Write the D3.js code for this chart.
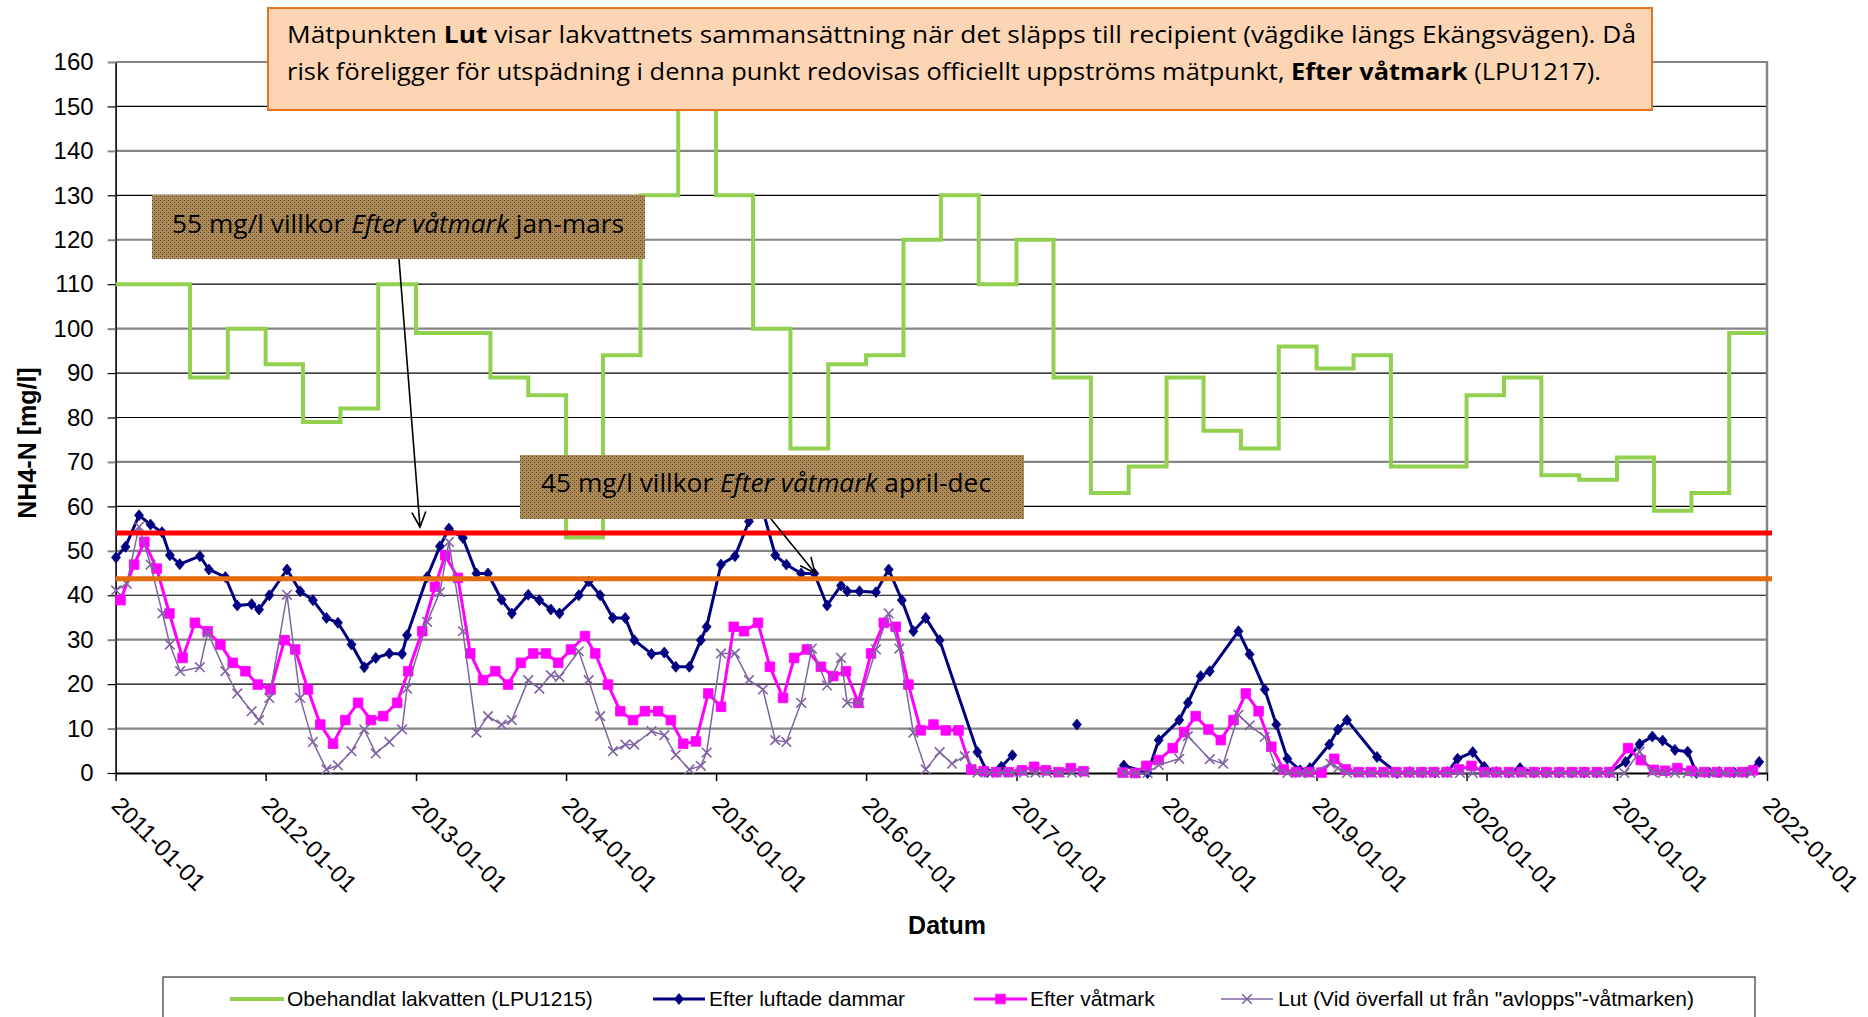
<!DOCTYPE html>
<html>
<head>
<meta charset="utf-8">
<script src="https://cdn.jsdelivr.net/npm/d3@7"></script>
<style>
  html, body { margin: 0; padding: 0; background: #fff; }
  svg { display: block; }
</style>
</head>
<body>
<div id="chart"></div>
<script>
// Obehandlat lakvatten (LPU1215), kvartalsvärden
const quarterStarts = [
  "2011-01-01", "2011-04-01", "2011-07-01", "2011-10-01",
  "2012-01-01", "2012-04-01", "2012-07-01", "2012-10-01",
  "2013-01-01", "2013-04-01", "2013-07-01", "2013-10-01",
  "2014-01-01", "2014-04-01", "2014-07-01", "2014-10-01",
  "2015-01-01", "2015-04-01", "2015-07-01", "2015-10-01",
  "2016-01-01", "2016-04-01", "2016-07-01", "2016-10-01",
  "2017-01-01", "2017-04-01", "2017-07-01", "2017-10-01",
  "2018-01-01", "2018-04-01", "2018-07-01", "2018-10-01",
  "2019-01-01", "2019-04-01", "2019-07-01", "2019-10-01",
  "2020-01-01", "2020-04-01", "2020-07-01", "2020-10-01",
  "2021-01-01", "2021-04-01", "2021-07-01", "2021-10-01"
];
const rawValues = [
  110, 110, 89, 100,
  92, 79, 82, 110,
  99, 99, 89, 85,
  53, 94, 130, 155,
  130, 100, 73, 92,
  94, 120, 130, 110,
  120, 89, 63, 69,
  89, 77, 73, 96,
  91, 94, 69, 69,
  85, 89, 67, 66,
  71, 59, 63, 99
];

// Efter luftade dammar (null = avbrott i linjen)
const pondSeries = [
  ["2011-01-02", 48.5], ["2011-01-25", 50.9], ["2011-02-27", 58.0], ["2011-03-27", 55.9],
  ["2011-04-24", 54.2], ["2011-05-13", 49.0], ["2011-06-06", 47.0], ["2011-07-25", 48.8],
  ["2011-08-16", 45.8], ["2011-09-25", 44.1], ["2011-10-24", 37.7], ["2011-11-28", 38.0],
  ["2011-12-16", 36.8], ["2012-01-10", 40.0], ["2012-02-22", 45.8], ["2012-03-25", 40.9],
  ["2012-04-25", 38.9], ["2012-05-28", 34.9], ["2012-06-25", 33.8], ["2012-07-28", 28.9],
  ["2012-08-28", 23.8], ["2012-09-25", 25.9], ["2012-10-28", 26.9], ["2012-11-28", 26.8],
  ["2012-12-10", 31.0], ["2013-01-28", 44.1], ["2013-02-28", 51.0], ["2013-03-22", 55.0],
  ["2013-04-25", 52.9], ["2013-05-28", 44.9], ["2013-06-25", 44.9], ["2013-07-28", 39.0],
  ["2013-08-22", 35.9], ["2013-10-01", 40.1], ["2013-10-28", 38.9], ["2013-11-25", 36.8],
  ["2013-12-16", 35.9], ["2014-02-01", 40.0], ["2014-02-25", 43.1], ["2014-03-25", 40.0],
  ["2014-04-25", 34.9], ["2014-05-25", 34.9], ["2014-06-16", 29.9], ["2014-07-28", 26.8],
  ["2014-08-28", 27.1], ["2014-09-25", 23.9], ["2014-10-28", 23.9], ["2014-11-25", 29.9],
  ["2014-12-09", 32.9], ["2015-01-13", 46.9], ["2015-02-16", 48.8], ["2015-03-22", 56.6],
  ["2015-04-22", 60.0], ["2015-05-25", 49.0], ["2015-06-21", 46.9], ["2015-07-27", 44.9],
  ["2015-08-28", 44.9], ["2015-09-28", 37.7], ["2015-11-01", 42.2], ["2015-11-16", 40.9],
  ["2015-12-16", 40.9], ["2016-01-25", 40.7], ["2016-02-25", 45.8], ["2016-03-28", 38.9],
  ["2016-04-25", 31.9], ["2016-05-25", 34.9], ["2016-06-28", 29.9], ["2016-09-28", 4.7],
  ["2016-10-22", 0.2], ["2016-11-25", 1.4], ["2016-12-22", 4.0], ["2017-03-01", null],
  ["2017-05-28", 10.9], ["2017-07-01", null],
  ["2017-09-19", 1.7], ["2017-11-16", 0.0], ["2017-12-13", 7.4], ["2018-02-01", 11.9],
  ["2018-02-22", 15.8], ["2018-03-25", 21.8], ["2018-04-16", 22.9], ["2018-06-25", 31.9],
  ["2018-07-22", 26.7], ["2018-08-28", 18.8], ["2018-09-25", 10.9], ["2018-10-22", 3.2],
  ["2018-11-22", 0.6], ["2018-12-16", 1.1], ["2019-02-01", 6.4], ["2019-02-22", 9.8],
  ["2019-03-16", 11.9], ["2019-05-28", 3.6], ["2019-07-16", 0.0], ["2019-08-16", 0.2],
  ["2019-09-16", 0.1], ["2019-10-16", 0.1], ["2019-11-16", 0.2], ["2019-12-10", 3.2],
  ["2020-01-16", 4.7], ["2020-02-13", 1.4], ["2020-03-13", 0.2], ["2020-04-13", 0.1],
  ["2020-05-10", 1.1], ["2020-06-13", 0.1], ["2020-07-13", 0.1], ["2020-08-13", 0.1],
  ["2020-09-13", 0.1], ["2020-10-13", 0.1], ["2020-11-13", 0.1], ["2020-12-13", 0.1],
  ["2021-01-22", 2.5], ["2021-02-25", 6.5], ["2021-03-28", 8.2], ["2021-04-22", 7.3],
  ["2021-05-22", 5.2], ["2021-06-22", 4.8], ["2021-07-13", 0.0], ["2021-08-13", 0.1],
  ["2021-09-07", 0.2], ["2021-10-13", 0.1], ["2021-11-13", 0.1], ["2021-12-13", 2.5]
];

// Efter våtmark (LPU1217)
const wetlandSeries = [
  ["2011-01-13", 38.9], ["2011-02-15", 46.9], ["2011-03-12", 52.0], ["2011-04-11", 46.0],
  ["2011-05-12", 35.9], ["2011-06-13", 25.9], ["2011-07-13", 33.8], ["2011-08-13", 31.9],
  ["2011-09-13", 28.9], ["2011-10-13", 24.8], ["2011-11-13", 22.9], ["2011-12-13", 19.9],
  ["2012-01-13", 18.8], ["2012-02-16", 29.9], ["2012-03-13", 27.8], ["2012-04-13", 18.8],
  ["2012-05-13", 10.9], ["2012-06-13", 6.6], ["2012-07-13", 11.9], ["2012-08-13", 15.8],
  ["2012-09-13", 11.9], ["2012-10-13", 12.8], ["2012-11-16", 15.8], ["2012-12-13", 22.9],
  ["2013-01-16", 31.9], ["2013-02-16", 41.9], ["2013-03-13", 49.0], ["2013-04-13", 43.9],
  ["2013-05-13", 26.9], ["2013-06-13", 20.9], ["2013-07-13", 22.9], ["2013-08-13", 19.9],
  ["2013-09-13", 24.8], ["2013-10-13", 26.9], ["2013-11-13", 26.9], ["2013-12-13", 24.8],
  ["2014-01-13", 27.8], ["2014-02-16", 30.8], ["2014-03-13", 26.9], ["2014-04-13", 19.9],
  ["2014-05-13", 13.9], ["2014-06-13", 11.9], ["2014-07-12", 13.9], ["2014-08-13", 13.9],
  ["2014-09-13", 11.9], ["2014-10-13", 6.6], ["2014-11-13", 7.1], ["2014-12-13", 17.9],
  ["2015-01-13", 14.9], ["2015-02-13", 32.9], ["2015-03-10", 31.9], ["2015-04-13", 33.8],
  ["2015-05-12", 23.9], ["2015-06-13", 16.9], ["2015-07-10", 25.9], ["2015-08-10", 27.8],
  ["2015-09-13", 23.9], ["2015-10-13", 21.8], ["2015-11-13", 22.9], ["2015-12-13", 15.8],
  ["2016-01-13", 26.9], ["2016-02-13", 33.8], ["2016-03-13", 32.9], ["2016-04-13", 19.9],
  ["2016-05-13", 9.6], ["2016-06-13", 10.9], ["2016-07-13", 9.6], ["2016-08-13", 9.6],
  ["2016-09-13", 0.8], ["2016-10-13", 0.4], ["2016-11-13", 0.2], ["2016-12-13", 0.2],
  ["2017-01-14", 0.6], ["2017-02-13", 1.4], ["2017-03-13", 0.6], ["2017-04-13", 0.2],
  ["2017-05-13", 1.1], ["2017-06-13", 0.4], ["2017-08-01", null],
  ["2017-09-16", 0.1], ["2017-10-16", 0.0], ["2017-11-13", 1.6], ["2017-12-13", 2.9],
  ["2018-01-16", 5.6], ["2018-02-13", 9.2], ["2018-03-13", 12.8], ["2018-04-13", 9.8],
  ["2018-05-13", 7.4], ["2018-06-13", 11.9], ["2018-07-13", 17.9], ["2018-08-13", 13.9],
  ["2018-09-13", 5.9], ["2018-10-13", 0.8], ["2018-11-13", 0.2], ["2018-12-13", 0.2],
  ["2019-01-13", 0.1], ["2019-02-13", 3.2], ["2019-03-13", 0.8], ["2019-04-13", 0.2],
  ["2019-05-13", 0.2], ["2019-06-13", 0.2], ["2019-07-13", 0.2], ["2019-08-13", 0.2],
  ["2019-09-13", 0.2], ["2019-10-13", 0.2], ["2019-11-13", 0.2], ["2019-12-13", 0.8],
  ["2020-01-13", 1.6], ["2020-02-13", 0.2], ["2020-03-13", 0.2], ["2020-04-13", 0.2],
  ["2020-05-13", 0.2], ["2020-06-13", 0.2], ["2020-07-13", 0.2], ["2020-08-13", 0.2],
  ["2020-09-13", 0.2], ["2020-10-13", 0.2], ["2020-11-13", 0.2], ["2020-12-13", 0.2],
  ["2021-01-28", 5.6], ["2021-02-28", 2.9], ["2021-04-01", 0.7], ["2021-04-28", 0.5],
  ["2021-05-28", 1.1], ["2021-07-01", 0.5], ["2021-08-01", 0.2], ["2021-09-01", 0.2],
  ["2021-10-01", 0.2], ["2021-11-01", 0.2], ["2021-11-28", 0.6]
];

// Lut (Vid överfall ut från "avlopps"-våtmarken)
const outletSeries = [
  ["2011-01-02", 41.1], ["2011-01-28", 42.6], ["2011-02-27", 55.4], ["2011-03-27", 46.9],
  ["2011-04-25", 35.9], ["2011-05-13", 28.9], ["2011-06-07", 22.9], ["2011-07-25", 23.8],
  ["2011-08-13", 31.6], ["2011-09-25", 22.9], ["2011-10-24", 17.9], ["2011-11-28", 13.9],
  ["2011-12-16", 11.9], ["2012-01-10", 16.9], ["2012-02-22", 40.1], ["2012-03-25", 16.9],
  ["2012-04-25", 7.0], ["2012-05-28", 0.8], ["2012-06-25", 1.7], ["2012-07-28", 4.9],
  ["2012-08-28", 9.8], ["2012-09-25", 4.4], ["2012-10-28", 7.0], ["2012-11-28", 9.8],
  ["2012-12-10", 19.0], ["2013-01-28", 34.0], ["2013-02-28", 40.7], ["2013-03-22", 52.0],
  ["2013-04-25", 31.9], ["2013-05-28", 9.1], ["2013-06-25", 12.8], ["2013-07-28", 10.9],
  ["2013-08-22", 11.9], ["2013-10-01", 20.9], ["2013-10-28", 19.0], ["2013-11-25", 22.0],
  ["2013-12-16", 21.6], ["2014-02-01", 27.4], ["2014-02-25", 20.9], ["2014-03-25", 12.8],
  ["2014-04-25", 4.9], ["2014-05-25", 6.4], ["2014-06-16", 6.4], ["2014-07-28", 9.4],
  ["2014-08-28", 8.5], ["2014-09-25", 4.1], ["2014-10-28", 0.8], ["2014-11-25", 1.6],
  ["2014-12-09", 4.6], ["2015-01-13", 26.9], ["2015-02-16", 26.9], ["2015-03-22", 20.9],
  ["2015-04-25", 18.8], ["2015-05-25", 7.4], ["2015-06-21", 7.0], ["2015-07-27", 15.8],
  ["2015-08-22", 28.0], ["2015-09-28", 19.7], ["2015-11-01", 25.9], ["2015-11-16", 15.8],
  ["2015-12-16", 15.8], ["2016-01-25", 27.8], ["2016-02-25", 35.9], ["2016-03-22", 28.0],
  ["2016-04-25", 9.1], ["2016-05-25", 0.8], ["2016-06-28", 4.7], ["2016-07-28", 2.1],
  ["2016-08-28", 3.8], ["2016-09-28", 0.1], ["2016-10-25", 0.0], ["2016-11-25", 0.1],
  ["2016-12-22", 0.1], ["2017-01-19", 0.1], ["2017-02-16", 0.1], ["2017-03-16", 0.1],
  ["2017-04-16", 0.1], ["2017-05-16", 0.1], ["2017-06-16", 0.1], ["2017-08-01", null],
  ["2017-09-19", 0.1], ["2017-10-19", 0.0], ["2017-11-16", 0.0], ["2017-12-13", 1.8],
  ["2018-02-01", 3.2], ["2018-02-22", 8.3], ["2018-04-16", 3.1], ["2018-05-19", 2.1],
  ["2018-06-25", 13.1], ["2018-07-22", 10.7], ["2018-08-28", 8.1], ["2018-09-25", 1.0],
  ["2018-10-22", 0.0], ["2018-11-22", 0.0], ["2018-12-16", 0.0], ["2019-02-04", 2.1],
  ["2019-02-22", 1.1], ["2019-03-16", 0.0], ["2019-04-16", 0.0], ["2019-05-16", 0.0],
  ["2019-06-16", 0.0], ["2019-07-16", 0.0], ["2019-08-16", 0.0], ["2019-09-16", 0.0],
  ["2019-10-16", 0.0], ["2019-11-16", 0.0], ["2019-12-16", 0.0], ["2020-01-16", 0.0],
  ["2020-02-16", 0.0], ["2020-03-16", 0.0], ["2020-04-16", 0.0], ["2020-05-16", 0.0],
  ["2020-06-16", 0.0], ["2020-07-16", 0.0], ["2020-08-16", 0.0], ["2020-09-16", 0.0],
  ["2020-10-16", 0.0], ["2020-11-16", 0.0], ["2020-12-16", 0.0], ["2021-01-19", 0.0],
  ["2021-02-25", 4.8], ["2021-03-28", 0.2], ["2021-04-22", 0.0], ["2021-05-22", 0.0],
  ["2021-06-22", 0.0], ["2021-07-22", 0.0], ["2021-08-22", 0.0], ["2021-09-22", 0.0],
  ["2021-10-22", 0.0], ["2021-11-22", 0.0]
];

const limitJanMar = 54;
const limitAprDec = 43.7;

const yTicks = [0, 10, 20, 30, 40, 50, 60, 70, 80, 90, 100, 110, 120, 130, 140, 150, 160];
const xTickDates = [
  "2011-01-01", "2012-01-01", "2013-01-01", "2014-01-01", "2015-01-01", "2016-01-01",
  "2017-01-01", "2018-01-01", "2019-01-01", "2020-01-01", "2021-01-01", "2022-01-01"
];
const legendLabels = [
  "Obehandlat lakvatten (LPU1215)",
  "Efter luftade dammar",
  "Efter våtmark",
  "Lut (Vid överfall ut från \"avlopps\"-våtmarken)"
];

const W = 1868, H = 1017;
const plot = { left: 115.6, right: 1767, top: 62, bottom: 773 };
const arial = "'Liberation Sans', Arial, sans-serif";
const noteFont = "'Open Sans', 'Noto Sans', sans-serif";
const colors = { raw: '#92d050', pond: '#000080', wetland: '#ff00ff', outlet: '#8064a2' };
const grayGrid = new Set([10, 30, 50, 70, 100, 120, 140, 160]);

const parse = d3.timeParse('%Y-%m-%d');

const x = d3.scaleTime()
  .domain([parse('2011-01-01'), parse('2022-01-01')])
  .range([plot.left, plot.right]);
const y = d3.scaleLinear()
  .domain([0, 160])
  .range([plot.bottom, plot.top]);

const svg = d3.select('#chart')
  .append('svg')
  .attr('width', W)
  .attr('height', H)
  .style('font-family', arial);

const defs = svg.append('defs');

// brown dotted fill for the condition notes
const pat = defs.append('pattern')
  .attr('id', 'brownDots')
  .attr('width', 4)
  .attr('height', 4)
  .attr('patternUnits', 'userSpaceOnUse');
pat.append('rect').attr('width', 4).attr('height', 4).attr('fill', '#b08a56');
pat.append('rect').attr('x', 0).attr('y', 0).attr('width', 1).attr('height', 1).attr('fill', '#4f4a33');
pat.append('rect').attr('x', 2).attr('y', 2).attr('width', 1).attr('height', 1).attr('fill', '#4f4a33');
pat.append('rect').attr('x', 2).attr('y', 0).attr('width', 1).attr('height', 1).attr('fill', '#8f7a50');

defs.append('marker')
  .attr('id', 'openArrow')
  .attr('viewBox', '-16 -9 18 18')
  .attr('refX', 0)
  .attr('refY', 0)
  .attr('markerUnits', 'userSpaceOnUse')
  .attr('markerWidth', 18)
  .attr('markerHeight', 18)
  .attr('orient', 'auto')
  .append('path')
  .attr('d', 'M -15,-7 L 0,0 L -15,7')
  .attr('fill', 'none')
  .attr('stroke', '#000')
  .attr('stroke-width', 1.6);

// gridlines
svg.append('g')
  .selectAll('line')
  .data(yTicks.filter(d => d > 0))
  .join('line')
  .attr('x1', plot.left)
  .attr('x2', plot.right)
  .attr('y1', d => y(d))
  .attr('y2', d => y(d))
  .attr('stroke', d => grayGrid.has(d) ? '#858585' : '#000')
  .attr('stroke-width', d => grayGrid.has(d) ? 2.2 : 1.2);

// right border
svg.append('line')
  .attr('x1', plot.right).attr('x2', plot.right)
  .attr('y1', plot.top - 1).attr('y2', plot.bottom)
  .attr('stroke', '#858585')
  .attr('stroke-width', 2.5);

// y axis
const yAxis = svg.append('g')
  .attr('transform', `translate(${plot.left},0)`)
  .call(d3.axisLeft(y).tickValues(yTicks).tickSize(8).tickPadding(14).tickSizeOuter(0));
yAxis.select('.domain').attr('stroke', '#000').attr('stroke-width', 1.6);
yAxis.selectAll('.tick line')
  .attr('stroke', d => grayGrid.has(d) ? '#858585' : '#000')
  .attr('stroke-width', d => grayGrid.has(d) ? 2 : 1.2);
yAxis.selectAll('.tick text')
  .attr('fill', '#000')
  .style('font-family', arial)
  .style('font-size', '24px');

// x axis
const xAxis = svg.append('g')
  .attr('transform', `translate(0,${plot.bottom})`)
  .call(d3.axisBottom(x)
    .tickValues(xTickDates.map(parse))
    .tickSize(8)
    .tickSizeOuter(0)
    .tickFormat(d3.timeFormat('%Y-%m-%d')));
xAxis.select('.domain').attr('stroke', '#000').attr('stroke-width', 2);
xAxis.selectAll('.tick line').attr('stroke', '#000').attr('stroke-width', 1.5);
xAxis.selectAll('.tick text')
  .attr('x', 0)
  .attr('y', 0)
  .attr('dy', '0.35em')
  .attr('transform', 'translate(0,28) rotate(45)')
  .attr('text-anchor', 'start')
  .attr('fill', '#000')
  .style('font-family', arial)
  .style('font-size', '24px');

// axis titles
svg.append('text')
  .attr('transform', 'translate(36,443) rotate(-90)')
  .attr('text-anchor', 'middle')
  .style('font-size', '25px')
  .style('font-weight', 'bold')
  .text('NH4-N [mg/l]');

svg.append('text')
  .attr('x', 947)
  .attr('y', 934)
  .attr('text-anchor', 'middle')
  .style('font-size', '25px')
  .style('font-weight', 'bold')
  .text('Datum');

// series
const rawData = quarterStarts.map((d, i) => [parse(d), rawValues[i]]);
rawData.push([x.domain()[1], rawValues[rawValues.length - 1]]);

const toPoints = s => s.map(d => [parse(d[0]), d[1]]);
const pondData = toPoints(pondSeries);
const wetlandData = toPoints(wetlandSeries);
const outletData = toPoints(outletSeries);

const line = d3.line()
  .defined(d => d[1] != null)
  .x(d => x(d[0]))
  .y(d => y(d[1]));

svg.append('path')
  .datum(rawData)
  .attr('fill', 'none')
  .attr('stroke', colors.raw)
  .attr('stroke-width', 4)
  .attr('d', line.curve(d3.curveStepAfter));

line.curve(d3.curveLinear);

const diamond = 'M0,-5.5 L4.5,0 L0,5.5 L-4.5,0 Z';
const square = 'M-4.8,-4.8 H4.8 V4.8 H-4.8 Z';
const cross = 'M-4.8,-4.8 L4.8,4.8 M-4.8,4.8 L4.8,-4.8';

function drawSeries(data, color, width, shape, markerFill) {
  const g = svg.append('g');
  g.append('path')
    .datum(data)
    .attr('fill', 'none')
    .attr('stroke', color)
    .attr('stroke-width', width)
    .attr('stroke-linejoin', 'round')
    .attr('d', line);
  // isolated points (no neighbour on either side) still get a marker
  g.selectAll('path.mark')
    .data(data.filter(d => d[1] != null))
    .join('path')
    .attr('class', 'mark')
    .attr('transform', d => `translate(${x(d[0])},${y(d[1])})`)
    .attr('d', shape)
    .attr('fill', markerFill ? color : 'none')
    .attr('stroke', color)
    .attr('stroke-width', markerFill ? 0.8 : 1.6);
}

drawSeries(pondData, colors.pond, 3, diamond, true);
drawSeries(wetlandData, colors.wetland, 3, square, true);
drawSeries(outletData, colors.outlet, 1.5, cross, false);

// condition lines
svg.append('line')
  .attr('x1', plot.left).attr('x2', plot.right + 5)
  .attr('y1', y(limitJanMar)).attr('y2', y(limitJanMar))
  .attr('stroke', '#ff0000')
  .attr('stroke-width', 5);
svg.append('line')
  .attr('x1', plot.left).attr('x2', plot.right + 5)
  .attr('y1', y(limitAprDec)).attr('y2', y(limitAprDec))
  .attr('stroke', '#e46c0a')
  .attr('stroke-width', 5);

// notes
const note = svg.append('g');
note.append('rect')
  .attr('x', 268).attr('y', 8)
  .attr('width', 1384).attr('height', 102)
  .attr('fill', '#fcd5b5')
  .attr('stroke', '#e8731a')
  .attr('stroke-width', 2);

const t1 = note.append('text')
  .attr('x', 287).attr('y', 43)
  .attr('textLength', 1349)
  .attr('lengthAdjust', 'spacingAndGlyphs')
  .style('font-family', noteFont)
  .style('font-size', '23px');
t1.append('tspan').text('Mätpunkten ');
t1.append('tspan').style('font-weight', 'bold').text('Lut');
t1.append('tspan').text(' visar lakvattnets sammansättning när det släpps till recipient (vägdike längs Ekängsvägen). Då');

const t2 = note.append('text')
  .attr('x', 287).attr('y', 80)
  .attr('textLength', 1314)
  .attr('lengthAdjust', 'spacingAndGlyphs')
  .style('font-family', noteFont)
  .style('font-size', '23px');
t2.append('tspan').text('risk föreligger för utspädning i denna punkt redovisas officiellt uppströms mätpunkt, ');
t2.append('tspan').style('font-weight', 'bold').text('Efter våtmark');
t2.append('tspan').text(' (LPU1217).');

function conditionNote(bx, by, bw, bh, tx, ty, tw, limit, months) {
  const g = svg.append('g');
  g.append('rect')
    .attr('x', bx).attr('y', by)
    .attr('width', bw).attr('height', bh)
    .attr('fill', 'url(#brownDots)');
  const t = g.append('text')
    .attr('x', tx).attr('y', ty)
    .attr('textLength', tw)
    .attr('lengthAdjust', 'spacingAndGlyphs')
    .style('font-family', noteFont)
    .style('font-size', '26px');
  t.append('tspan').text(`${limit} mg/l villkor `);
  t.append('tspan').style('font-style', 'italic').text('Efter våtmark');
  t.append('tspan').text(` ${months}`);
}

svg.append('line')
  .attr('x1', 399).attr('y1', 259)
  .attr('x2', 420).attr('y2', 527)
  .attr('stroke', '#000')
  .attr('stroke-width', 1.6)
  .attr('marker-end', 'url(#openArrow)');
svg.append('line')
  .attr('x1', 771).attr('y1', 519)
  .attr('x2', 815).attr('y2', 573)
  .attr('stroke', '#000')
  .attr('stroke-width', 1.6)
  .attr('marker-end', 'url(#openArrow)');

conditionNote(152, 195, 493, 64, 172, 233, 452, 55, 'jan-mars');
conditionNote(520, 455, 504, 64, 541, 492, 450, 45, 'april-dec');

// legend
const legend = svg.append('g');
legend.append('rect')
  .attr('x', 163).attr('y', 977)
  .attr('width', 1592).attr('height', 60)
  .attr('fill', '#fff')
  .attr('stroke', '#333')
  .attr('stroke-width', 1.2);

const legendItems = [
  { x0: 230, x1: 284, tx: 287, color: colors.raw, width: 4, shape: null, fill: true },
  { x0: 653, x1: 705, tx: 709, color: colors.pond, width: 3, shape: diamond, fill: true },
  { x0: 974, x1: 1027, tx: 1030, color: colors.wetland, width: 3, shape: square, fill: true },
  { x0: 1221, x1: 1273, tx: 1278, color: colors.outlet, width: 1.5, shape: cross, fill: false }
];
const ly = 999;
legendItems.forEach((item, i) => {
  legend.append('line')
    .attr('x1', item.x0).attr('x2', item.x1)
    .attr('y1', ly).attr('y2', ly)
    .attr('stroke', item.color)
    .attr('stroke-width', item.width);
  if (item.shape) {
    legend.append('path')
      .attr('transform', `translate(${(item.x0 + item.x1) / 2},${ly})`)
      .attr('d', item.shape)
      .attr('fill', item.fill ? item.color : 'none')
      .attr('stroke', item.color)
      .attr('stroke-width', item.fill ? 0.8 : 1.6);
  }
  legend.append('text')
    .attr('x', item.tx)
    .attr('y', ly + 7)
    .style('font-size', '21px')
    .text(legendLabels[i]);
});
</script>
</body>
</html>
